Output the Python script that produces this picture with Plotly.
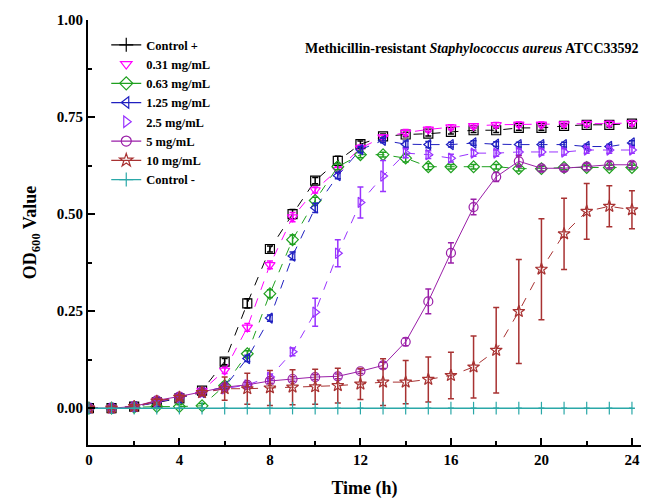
import plotly.graph_objects as go

hours = list(range(25))

series_names = ["Control +", "0.31 mg/mL", "0.63 mg/mL", "1.25 mg/mL",
                "2.5 mg/mL", "5 mg/mL", "10 mg/mL", "Control -"]

ctrl_pos = [0.000, 0.000, 0.004, 0.015, 0.025, 0.045, 0.120, 0.270, 0.410, 0.500, 0.586, 0.637, 0.680,
            0.700, 0.705, 0.707, 0.712, 0.716, 0.716, 0.722, 0.722, 0.727, 0.730, 0.730, 0.733]
c031 = [0.000, 0.000, 0.004, 0.018, 0.028, 0.045, 0.097, 0.208, 0.369, 0.492, 0.562, 0.614, 0.670,
        0.698, 0.710, 0.718, 0.724, 0.727, 0.730, 0.731, 0.731, 0.732, 0.733, 0.733, 0.735]
c063 = [0.000, 0.000, 0.002, 0.004, 0.004, 0.006, 0.058, 0.140, 0.295, 0.434, 0.535, 0.622, 0.653,
        0.653, 0.644, 0.622, 0.622, 0.622, 0.622, 0.617, 0.617, 0.620, 0.620, 0.620, 0.620]
c125 = [0.000, 0.000, 0.004, 0.016, 0.026, 0.040, 0.055, 0.128, 0.232, 0.392, 0.516, 0.599, 0.666,
        0.690, 0.680, 0.679, 0.679, 0.683, 0.680, 0.679, 0.679, 0.679, 0.674, 0.674, 0.683]
c25 = [0.000, 0.000, 0.004, 0.016, 0.027, 0.040, 0.050, 0.060, 0.080, 0.145, 0.247, 0.399, 0.530,
       0.598, 0.657, 0.653, 0.644, 0.657, 0.657, 0.660, 0.660, 0.660, 0.665, 0.665, 0.665]
c5 = [0.000, 0.000, 0.004, 0.020, 0.030, 0.042, 0.054, 0.060, 0.070, 0.075, 0.080, 0.082, 0.095,
      0.110, 0.171, 0.275, 0.400, 0.518, 0.596, 0.636, 0.618, 0.618, 0.622, 0.627, 0.627]
c10 = [0.000, 0.000, 0.004, 0.018, 0.028, 0.040, 0.050, 0.050, 0.052, 0.054, 0.055, 0.058, 0.062,
       0.067, 0.067, 0.074, 0.084, 0.106, 0.149, 0.249, 0.358, 0.449, 0.507, 0.520, 0.511]
ctrl_neg = [0.0] * 25

err_ctrl_pos = [0.003, 0.003, 0.004, 0.005, 0.005, 0.006, 0.008, 0.012, 0.008, 0.012, 0.008, 0.012, 0.008,
                0.006, 0.006, 0.006, 0.006, 0.006, 0.006, 0.006, 0.006, 0.006, 0.006, 0.006, 0.006]
err_c031 = [0.003, 0.003, 0.004, 0.005, 0.005, 0.006, 0.008, 0.010, 0.010, 0.012, 0.008, 0.008, 0.008,
            0.006, 0.008, 0.006, 0.006, 0.006, 0.006, 0.006, 0.006, 0.006, 0.006, 0.006, 0.006]
err_c063 = [0.003, 0.003, 0.004, 0.005, 0.005, 0.006, 0.008, 0.008, 0.010, 0.012, 0.008, 0.008, 0.008,
            0.006, 0.010, 0.008, 0.006, 0.006, 0.006, 0.006, 0.006, 0.006, 0.006, 0.006, 0.006]
err_c125 = [0.003, 0.003, 0.004, 0.005, 0.005, 0.006, 0.008, 0.008, 0.008, 0.010, 0.012, 0.008, 0.008,
            0.006, 0.008, 0.008, 0.006, 0.006, 0.006, 0.006, 0.006, 0.006, 0.006, 0.006, 0.006]
err_c25 = [0.003, 0.003, 0.004, 0.005, 0.005, 0.006, 0.006, 0.006, 0.008, 0.010, 0.036, 0.035, 0.040,
           0.040, 0.012, 0.010, 0.010, 0.008, 0.008, 0.008, 0.008, 0.008, 0.008, 0.008, 0.008]
err_c5 = [0.003, 0.003, 0.004, 0.005, 0.005, 0.006, 0.006, 0.006, 0.006, 0.006, 0.006, 0.006, 0.006,
          0.008, 0.010, 0.032, 0.026, 0.020, 0.012, 0.015, 0.008, 0.008, 0.008, 0.008, 0.008]
err_c10 = [0.003, 0.003, 0.004, 0.005, 0.005, 0.006, 0.030, 0.040, 0.045, 0.045, 0.045, 0.045, 0.040,
           0.060, 0.056, 0.058, 0.060, 0.080, 0.110, 0.134, 0.130, 0.092, 0.072, 0.053, 0.049]
err_ctrl_neg = [0.0] * 25

values = [ctrl_pos, c031, c063, c125, c25, c5, c10, ctrl_neg]
errors = [err_ctrl_pos, err_c031, err_c063, err_c125, err_c25, err_c5, err_c10, err_ctrl_neg]

colors = ["#000000", "#FF00FF", "#1FA01F", "#2020C0", "#9933FF", "#9A1FA8", "#A83232", "#2AA8A8"]
plot_symbols = ["square-open", "triangle-down-open", "diamond-open", "triangle-left-open",
                "triangle-right-open", "circle-open", "star-open", "line-ns"]
legend_symbols = ["cross-thin", "triangle-down-open", "diamond-open", "triangle-left-open",
                  "triangle-right-open", "circle-open", "star-open", "cross-thin"]
dashes = ["dash", "dash", "dash", "dash", "dash", "solid", "dash", "solid"]
legend_lines = [True, False, True, True, False, True, True, True]

FONT = "Liberation Serif, Times New Roman, serif"

fig = go.Figure()

for name, ys, es, col, sym, dsh in zip(series_names, values, errors, colors, plot_symbols, dashes):
    fig.add_trace(go.Scatter(
        x=hours, y=ys, mode="lines+markers", showlegend=False, name=name,
        line=dict(color=col, width=1.5 if name == "Control -" else 1, dash=dsh),
        marker=dict(symbol=sym, size=9, color=col, line=dict(color=col, width=1.2)),
        error_y=dict(type="data", array=es, visible=True, color=col, thickness=1.5, width=3),
    ))

for name, col, sym, has_line in zip(series_names, colors, legend_symbols, legend_lines):
    fig.add_trace(go.Scatter(
        x=[None], y=[None], name=name, mode="lines+markers" if has_line else "markers",
        line=dict(color=col, width=1.2),
        marker=dict(symbol=sym, size=10, color=col, line=dict(color=col, width=1.2)),
    ))

fig.add_annotation(
    text="Methicillin-resistant <i>Staphylococcus aureus</i> ATCC33592",
    xref="paper", yref="paper", x=1.0, y=0.932, xanchor="right", yanchor="middle",
    showarrow=False, font=dict(family=FONT, size=14, color="black", weight="bold"),
)

fig.update_layout(
    width=651, height=504,
    margin=dict(l=80, r=18, t=12, b=67, autoexpand=False),
    paper_bgcolor="white", plot_bgcolor="white",
    font=dict(family=FONT, color="black", weight="bold"),
    legend=dict(x=0.033, y=0.976, xanchor="left", yanchor="top",
                font=dict(family=FONT, size=12.5, color="black", weight="bold"),
                bgcolor="rgba(0,0,0,0)", tracegroupgap=0, itemwidth=30),
)

fig.update_xaxes(
    range=[-0.04, 24.4], tickmode="array", tickvals=[0, 4, 8, 12, 16, 20, 24],
    ticks="inside", ticklen=7, tickwidth=2, tickcolor="black", automargin=False,
    minor=dict(tickmode="array", tickvals=[2, 6, 10, 14, 18, 22], ticks="inside", ticklen=4, tickwidth=2, tickcolor="black"),
    showline=True, linecolor="black", linewidth=2, showgrid=False, zeroline=False,
    tickfont=dict(family=FONT, size=15, color="black", weight="bold"),
    title=dict(text="Time (h)", font=dict(family=FONT, size=18, color="black", weight="bold"), standoff=14),
)
fig.update_yaxes(
    range=[-0.095, 1.0], tickmode="array", tickvals=[0, 0.25, 0.5, 0.75, 1.0],
    ticktext=["0.00", "0.25", "0.50", "0.75", "1.00"],
    ticks="inside", ticklen=7, tickwidth=2, tickcolor="black", automargin=False,
    minor=dict(tickmode="array", tickvals=[0.125, 0.375, 0.625, 0.875], ticks="inside", ticklen=4, tickwidth=2, tickcolor="black"),
    showline=True, linecolor="black", linewidth=2, showgrid=False, zeroline=False,
    tickfont=dict(family=FONT, size=15, color="black", weight="bold"),
    title=dict(text="OD<sub>600</sub> Value", font=dict(family=FONT, size=18, color="black", weight="bold"), standoff=15),
)

fig.write_html("out.html")
